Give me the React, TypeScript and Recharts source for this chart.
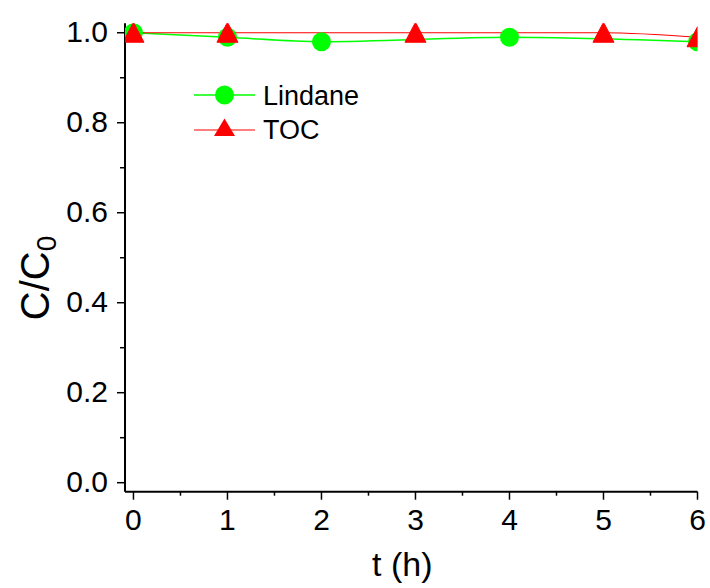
import { LineChart, Line, XAxis, YAxis, Legend, Label } from 'recharts';

// sampling times (h) and normalised concentrations
const lindaneTime = [0, 1, 2, 4, 6];
const lindaneValue = [1.0, 0.99, 0.98, 0.99, 0.98];
const tocTime = [0, 1, 3, 5, 6];
const tocValue = [1.0, 1.0, 1.0, 1.0, 0.99];

const xTicks = [0, 0.5, 1, 1.5, 2, 2.5, 3, 3.5, 4, 4.5, 5, 5.5, 6];
const xMinorTicks = [0.5, 1.5, 2.5, 3.5, 4.5, 5.5];
const yTicks = [0, 0.1, 0.2, 0.3, 0.4, 0.5, 0.6, 0.7, 0.8, 0.9, 1.0];
const yMinorTicks = [0.1, 0.3, 0.5, 0.7, 0.9];

const lindane = lindaneTime.map((t, i) => ({ t, v: lindaneValue[i] }));
const toc = tocTime.map((t, i) => ({ t, v: tocValue[i] }));

const FONT = '"Liberation Sans", Arial, sans-serif';
const GREEN = '#00ff00';
const RED = '#ff0000';

const BottomTick = (props: any) => {
  const { x, y, payload } = props;
  const major = Number.isInteger(payload.value);
  return (
    <g>
      <line x1={x} x2={x} y1={y} y2={y + (major ? 8 : 4)} stroke="#000" strokeWidth={1.5} />
      {major && (
        <text x={x} y={y + 38} textAnchor="middle" fontSize={30} fontFamily={FONT} fill="#000">
          {payload.value}
        </text>
      )}
    </g>
  );
};

const LeftTick = (props: any) => {
  const { x, y, payload } = props;
  const major = Math.round(payload.value * 10) % 2 === 0;
  return (
    <g>
      <line x1={x} x2={x - (major ? 8 : 5)} y1={y} y2={y} stroke="#000" strokeWidth={1.5} />
      {major && (
        <text x={x - 17} y={y + 9.5} textAnchor="end" fontSize={30} fontFamily={FONT} fill="#000">
          {payload.value.toFixed(1)}
        </text>
      )}
    </g>
  );
};

const TopTick = (props: any) => {
  const { x, y } = props;
  return <line x1={x} x2={x} y1={y} y2={y + 4} stroke="#000" strokeWidth={1.5} />;
};

const RightTick = (props: any) => {
  const { x, y } = props;
  return <line x1={x} x2={x - 4} y1={y} y2={y} stroke="#000" strokeWidth={1.5} />;
};

const Triangle = (props: any) => {
  const { cx, cy, key } = props;
  if (cx == null || cy == null) return <g key={key} />;
  return (
    <polygon
      key={key}
      points={`${cx},${cy - 10.5} ${cx - 10.5},${cy + 9.5} ${cx + 10.5},${cy + 9.5}`}
      fill={RED}
      stroke={RED}
    />
  );
};

const YTitle = (props: any) => {
  const { viewBox } = props;
  const cx = viewBox.x + 49;
  const cy = 278;
  return (
    <text
      x={cx}
      y={cy}
      transform={`rotate(-90, ${cx}, ${cy})`}
      textAnchor="middle"
      fontSize={40}
      fontFamily={FONT}
      fill="#000"
    >
      C/C
      <tspan dy={7} fontSize={28}>0</tspan>
    </text>
  );
};

const LegendBox = () => (
  <svg width={190} height={70} style={{ overflow: 'visible' }}>
    <line x1={4} x2={65} y1={15} y2={15} stroke={GREEN} strokeWidth={1.5} />
    <circle cx={34.5} cy={15} r={9.5} fill={GREEN} />
    <text x={73} y={25} fontSize={27} fontFamily={FONT} fill="#000">Lindane</text>
    <line x1={4} x2={65} y1={50} y2={50} stroke={RED} strokeWidth={1.2} />
    <polygon points="34.5,38.5 24,56 45,56" fill={RED} />
    <text x={73} y={59} fontSize={27} fontFamily={FONT} fill="#000">TOC</text>
  </svg>
);

export default function App() {
  return (
    <div style={{ position: 'absolute', left: 0, top: 0 }}>
      <LineChart width={710} height={588} margin={{ top: 23.3, right: 12.5, bottom: 0, left: 0 }}>
        <XAxis
          xAxisId="b"
          type="number"
          dataKey="t"
          domain={[-0.09, 6]}
          allowDataOverflow
          ticks={xTicks}
          interval={0}
          height={96.3}
          tickSize={0}
          tickMargin={0}
          tick={<BottomTick />}
          axisLine={{ stroke: '#000', strokeWidth: 2 }}
        >
          <Label
            value="t (h)"
            position="insideBottom"
            offset={12}
            dx={-9}
            style={{ fontSize: 34, fontFamily: FONT, fill: '#000' }}
          />
        </XAxis>
        <XAxis
          xAxisId="t"
          orientation="top"
          type="number"
          domain={[-0.09, 6]}
          allowDataOverflow
          ticks={xMinorTicks}
          interval={0}
          height={0}
          tickSize={0}
          tickMargin={0}
          tick={<TopTick />}
          axisLine={{ stroke: '#000', strokeWidth: 2 }}
        />
        <YAxis
          yAxisId="l"
          type="number"
          domain={[-0.02, 1.021]}
          allowDataOverflow
          ticks={yTicks}
          interval={0}
          width={125}
          tickSize={0}
          tickMargin={0}
          tick={<LeftTick />}
          axisLine={{ stroke: '#000', strokeWidth: 2 }}
        >
          <Label content={<YTitle />} />
        </YAxis>
        <YAxis
          yAxisId="r"
          orientation="right"
          type="number"
          domain={[-0.02, 1.021]}
          allowDataOverflow
          ticks={yMinorTicks}
          interval={0}
          width={0}
          tickSize={0}
          tickMargin={0}
          tick={<RightTick />}
          axisLine={{ stroke: '#000', strokeWidth: 2 }}
        />
        <Legend
          layout="vertical"
          align="center"
          verticalAlign="middle"
          content={<LegendBox />}
          wrapperStyle={{ position: 'absolute', left: 190, top: 80, width: 190, height: 70 }}
        />
        <Line
          xAxisId="b"
          yAxisId="l"
          data={lindane}
          dataKey="v"
          name="Lindane"
          type="monotone"
          stroke={GREEN}
          strokeWidth={1.5}
          dot={{ r: 9.5, fill: GREEN, stroke: GREEN, strokeWidth: 0 }}
          activeDot={false}
          isAnimationActive={false}
        />
        <Line
          xAxisId="b"
          yAxisId="l"
          data={toc}
          dataKey="v"
          name="TOC"
          type="monotone"
          stroke={RED}
          strokeWidth={1.2}
          dot={<Triangle />}
          activeDot={false}
          isAnimationActive={false}
        />
      </LineChart>
    </div>
  );
}
